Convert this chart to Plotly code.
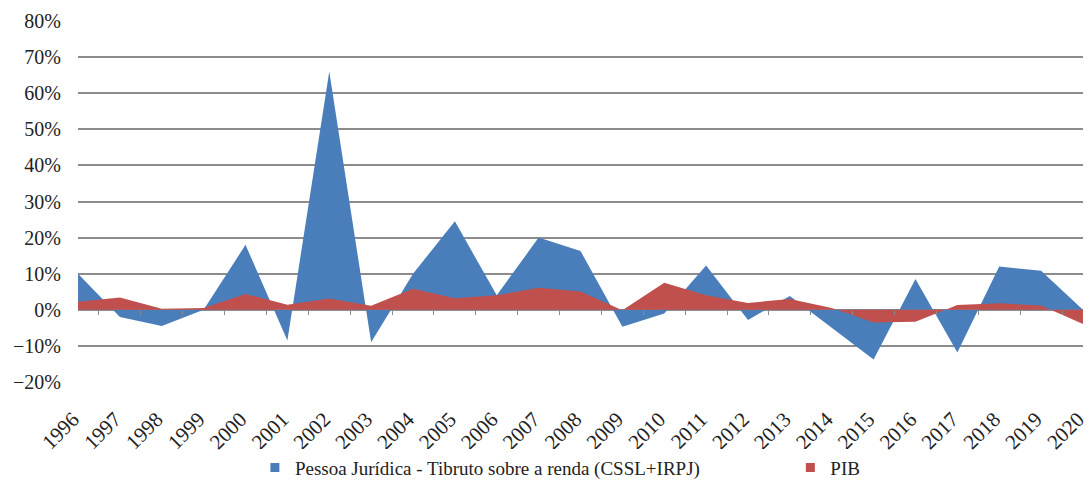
import plotly.graph_objects as go

# Data (annual growth, %)
years = list(range(1996, 2021))
year_labels = [str(y) for y in years]

pj_tributo = [10.0, -2.0, -4.5, 0.0, 18.0, -8.5, 66.0, -9.0, 10.0, 24.5,
              4.0, 20.0, 16.3, -4.7, -1.0, 12.3, -2.8, 3.8, -5.0, -13.8,
              8.5, -11.8, 12.0, 10.8, 0.0]
pib = [2.2, 3.4, 0.3, 0.5, 4.4, 1.4, 3.1, 1.1, 5.8, 3.2,
       4.0, 6.1, 5.1, -0.1, 7.5, 4.0, 1.9, 3.0, 0.5, -3.5,
       -3.3, 1.3, 1.8, 1.2, -3.9]

series_names = ["Pessoa Jurídica - Tibruto sobre a renda (CSSL+IRPJ)", "PIB"]
blue = "#4a7ebb"
red = "#c0504d"

fig = go.Figure()

# area series, filled down to 0
fig.add_trace(go.Scatter(
    x=years, y=pj_tributo, mode="lines", fill="tozeroy",
    line=dict(width=0, color=blue), fillcolor=blue, showlegend=False,
))
fig.add_trace(go.Scatter(
    x=years, y=pib, mode="lines", fill="tozeroy",
    line=dict(width=0, color=red), fillcolor=red, showlegend=False,
))

# legend entries with small squares, like Excel (nbsp padding for the wide gap)
pad = "\u00a0" * 18
for name, col in zip([series_names[0] + pad, series_names[1]], [blue, red]):
    fig.add_trace(go.Scatter(
        x=[None], y=[None], mode="markers", name=name,
        marker=dict(symbol="square", size=9, color=col),
    ))

# small category tick marks sitting on the 0% line (between years)
fig.add_trace(go.Scatter(x=[None], y=[None], xaxis="x2", showlegend=False))

xr = [1995.999, 2020.001]

fig.update_layout(
    width=1091, height=495,
    margin=dict(l=78, r=8, t=21, b=111),
    paper_bgcolor="white", plot_bgcolor="white",
    font=dict(family="Liberation Serif, Times New Roman, serif", size=19, color="#222222"),
    xaxis=dict(
        range=xr, tickvals=years, ticktext=year_labels,
        tickangle=-45, showgrid=False, zeroline=False, ticks="",
        showline=False, fixedrange=True, automargin=False,
        tickfont=dict(size=21), ticklabeloverflow="allow",
        ticklabelstandoff=20, ticklabelshift=-5,
    ),
    xaxis2=dict(
        overlaying="x", anchor="free", position=(0 - (-20)) / 100,
        range=xr, tickvals=[y + 0.5 for y in years[:-1]],
        ticks="outside", ticklen=4, tickcolor="#8c8c8c", tickwidth=1,
        showticklabels=False, showgrid=False, zeroline=False, showline=False,
        automargin=False,
    ),
    yaxis=dict(
        range=[-20, 80], dtick=10, ticksuffix="%",
        showgrid=True, gridcolor="#8c8c8c", gridwidth=1.5,
        zeroline=False, ticks="", ticklabelstandoff=16, automargin=False,
        tickfont=dict(size=20),
    ),
    legend=dict(
        orientation="h", x=0.48, xanchor="center", y=-0.237, yanchor="middle",
        font=dict(size=19), itemwidth=30,
    ),
)

fig.write_html("out.html", config={"displayModeBar": False},
               post_script="document.body.style.margin='0';")
